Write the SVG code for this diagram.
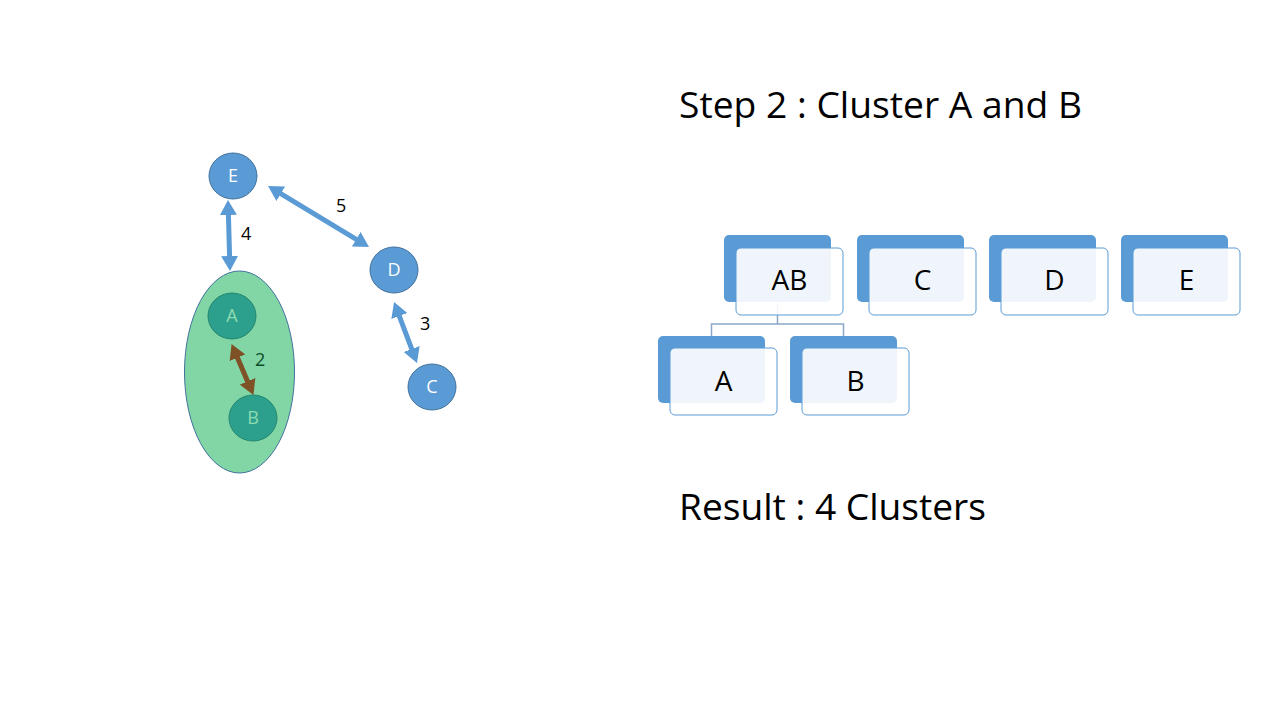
<svg xmlns="http://www.w3.org/2000/svg" width="1280" height="720" viewBox="0 0 1280 720">
<style>
  .blue { fill: #5B9BD5; stroke: #41719C; stroke-width: 1; }
  .teal { fill: #2CA08C; stroke: #23876F; stroke-width: 1; }
  .lbl { font-family: "Open Sans", "Liberation Sans", sans-serif; font-size: 18px; text-anchor: middle; }
  .w { fill: #FFFFFF; }
  .lg { fill: #8EDBB0; }
  .num { font-family: "Open Sans", "Liberation Sans", sans-serif; font-size: 18px; fill: #000; }
  .arr { stroke: #5B9BD5; stroke-width: 5; fill: none; marker-start: url(#ah); marker-end: url(#ah); }
  .arrb { stroke: #7F5127; stroke-width: 5; fill: none; marker-start: url(#ahb); marker-end: url(#ahb); }
  .back { fill: #5B9BD5; }
  .front { fill: #FFFFFF; fill-opacity: 0.9; stroke: #5B9BD5; stroke-width: 1; }
  .bt { font-family: "Open Sans", "Liberation Sans", sans-serif; font-size: 28px; fill: #000; text-anchor: middle; }
  .title { font-family: "Open Sans", "Liberation Sans", sans-serif; font-size: 37px; fill: #000; }
  .tree { stroke: #8AA6C8; stroke-width: 1.5; fill: none; }
</style>
<defs>
  <marker id="ah" markerUnits="userSpaceOnUse" viewBox="0 0 15 17" markerWidth="15" markerHeight="17" refX="4" refY="8.5" orient="auto-start-reverse">
    <path d="M0,0 L15,8.5 L0,17 z" fill="#5B9BD5"/>
  </marker>
  <marker id="ahb" markerUnits="userSpaceOnUse" viewBox="0 0 15 17" markerWidth="15" markerHeight="17" refX="4" refY="8.5" orient="auto-start-reverse">
    <path d="M0,0 L15,8.5 L0,17 z" fill="#7F5127"/>
  </marker>
</defs>
<rect width="1280" height="720" fill="#FFFFFF"/>

<g id="cluster-AB">
  <ellipse cx="239.5" cy="372" rx="55" ry="101" fill="#82D6A5" stroke="#41719C" stroke-width="1"/>
</g>
<g id="node-A">
  <ellipse class="teal" cx="232" cy="316" rx="24" ry="23"/>
  <text class="lbl lg" x="232" y="322">A</text>
</g>
<g id="node-B">
  <ellipse class="teal" cx="253" cy="418" rx="24" ry="23"/>
  <text class="lbl lg" x="253" y="424">B</text>
</g>
<g id="node-E">
  <ellipse class="blue" cx="233" cy="176" rx="24" ry="23"/>
  <text class="lbl w" x="233" y="182">E</text>
</g>
<g id="node-D">
  <ellipse class="blue" cx="394" cy="270" rx="24" ry="23"/>
  <text class="lbl w" x="394" y="276">D</text>
</g>
<g id="node-C">
  <ellipse class="blue" cx="432" cy="387" rx="24" ry="23"/>
  <text class="lbl w" x="432" y="393">C</text>
</g>

<g id="connectors">
  <line class="arr" x1="228.3" y1="211" x2="229.7" y2="260"/>
  <line class="arr" x1="277.4" y1="191.7" x2="359.6" y2="241.3"/>
  <line class="arr" x1="397.9" y1="312.3" x2="413.1" y2="352.7"/>
  <line class="arrb" x1="235.9" y1="354.1" x2="249.1" y2="384.9"/>
  <path class="tree" d="M777.5,303 V324 M711.5,336 V324 H843.5 V336"/>
</g>

<g id="edge-labels">
  <text class="num" x="241" y="240">4</text>
  <text class="num" x="336" y="212">5</text>
  <text class="num" x="420" y="330">3</text>
  <text class="num" x="255" y="366" style="fill:#0E4D2A">2</text>
</g>

<g id="box-AB">
  <rect class="back" x="724" y="235" width="107" height="67" rx="5"/>
  <rect class="front" x="736" y="248" width="107" height="67" rx="5"/>
  <text class="bt" x="789.5" y="290">AB</text>
</g>
<g id="box-C">
  <rect class="back" x="857" y="235" width="107" height="67" rx="5"/>
  <rect class="front" x="869" y="248" width="107" height="67" rx="5"/>
  <text class="bt" x="922.5" y="290">C</text>
</g>
<g id="box-D">
  <rect class="back" x="989" y="235" width="107" height="67" rx="5"/>
  <rect class="front" x="1001" y="248" width="107" height="67" rx="5"/>
  <text class="bt" x="1054.5" y="290">D</text>
</g>
<g id="box-E">
  <rect class="back" x="1121" y="235" width="107" height="67" rx="5"/>
  <rect class="front" x="1133" y="248" width="107" height="67" rx="5"/>
  <text class="bt" x="1186.5" y="290">E</text>
</g>
<g id="box-A">
  <rect class="back" x="658" y="336" width="107" height="67" rx="5"/>
  <rect class="front" x="670" y="348" width="107" height="67" rx="5"/>
  <text class="bt" x="723.5" y="391">A</text>
</g>
<g id="box-B">
  <rect class="back" x="790" y="336" width="107" height="67" rx="5"/>
  <rect class="front" x="802" y="348" width="107" height="67" rx="5"/>
  <text class="bt" x="855.5" y="391">B</text>
</g>

<g id="titles">
  <text class="title" x="679" y="118" textLength="403" lengthAdjust="spacingAndGlyphs">Step 2 : Cluster A and B</text>
  <text class="title" x="679" y="520" textLength="307" lengthAdjust="spacingAndGlyphs">Result : 4 Clusters</text>
</g>
</svg>
